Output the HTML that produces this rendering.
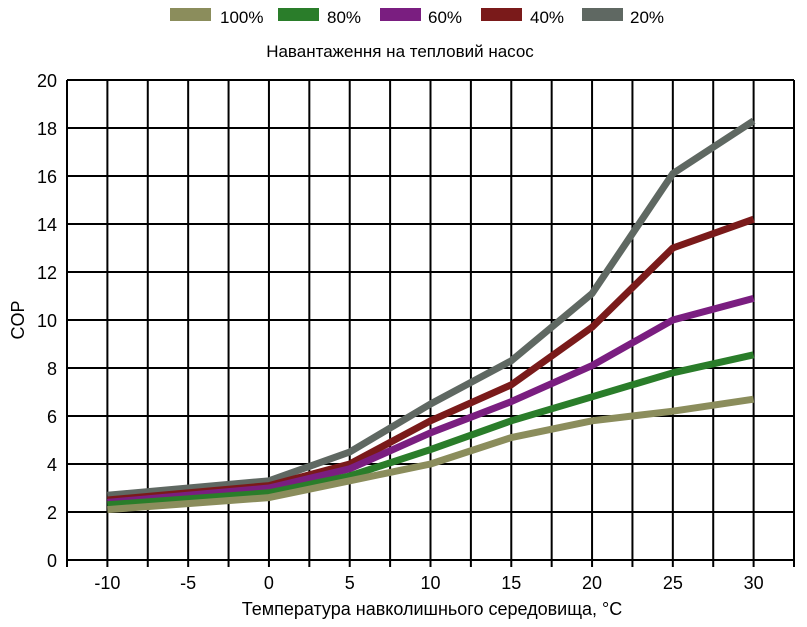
<!DOCTYPE html>
<html><head><meta charset="utf-8"><style>body{margin:0;background:#fff}svg{display:block}text{font-family:"Liberation Sans",sans-serif;fill:#000}</style></head><body>
<svg width="807" height="627" xmlns="http://www.w3.org/2000/svg">
<g font-size="17">
<rect x="170" y="8" width="41" height="13" fill="#8b8d5c"/><text x="220" y="23">100%</text>
<rect x="278" y="8" width="41" height="13" fill="#2a7d2a"/><text x="327" y="23">80%</text>
<rect x="380" y="8" width="41" height="13" fill="#7a1e80"/><text x="428" y="23">60%</text>
<rect x="481" y="8" width="41" height="13" fill="#7a1a1a"/><text x="530" y="23">40%</text>
<rect x="582" y="8" width="41" height="13" fill="#5f6862"/><text x="630" y="23">20%</text>
<text x="400" y="57" text-anchor="middle">Навантаження на тепловий насос</text>
</g>
<g stroke="#000" stroke-width="2" fill="none" id="grid"></g>
<g id="lines" fill="none" stroke-width="7" stroke-linejoin="round"></g>
<g font-size="18" id="lab"></g>
<text x="432" y="615" font-size="18" text-anchor="middle">Температура навколишнього середовища, °C</text>
<text x="24" y="320" font-size="18" text-anchor="middle" transform="rotate(-90 24 320)">COP</text>
<script>
var ns="http://www.w3.org/2000/svg";
function el(p,t,a,tx){var e=document.createElementNS(ns,t);for(var k in a)e.setAttribute(k,a[k]);if(tx!=null)e.textContent=tx;document.getElementById(p).appendChild(e);}
var L=67,R=794,T=80,B=560,dx=(R-L)/18;
for(var i=0;i<=18;i++){var x=L+i*dx;el("grid","line",{x1:x,y1:T,x2:x,y2:B+7});}
for(var j=0;j<=10;j++){var y=B-j*48;el("grid","line",{x1:L,y1:y,x2:R,y2:y});el("lab","text",{x:57,y:y+7,"text-anchor":"end"},String(j*2));}
for(var t=-10;t<=30;t+=5){el("lab","text",{x:L+dx*(t+12.5)/2.5,y:589,"text-anchor":"middle"},String(t));}
var xs=[-10,0,5,10,15,20,25,30];
var d=[["#8b8d5c",[2.1,2.6,3.3,4.0,5.1,5.8,6.2,6.7]],["#2a7d2a",[2.3,2.8,3.5,4.6,5.8,6.8,7.8,8.55]],["#7a1e80",[2.4,3.0,3.8,5.3,6.6,8.1,10.0,10.9]],["#7a1a1a",[2.5,3.1,4.0,5.8,7.3,9.7,13.0,14.2]],["#5f6862",[2.7,3.3,4.5,6.5,8.3,11.1,16.1,18.3]]];
d.reverse().forEach(function(s){var p=s[1].map(function(v,k){var t=xs[k];return (L+dx*(t+12.5)/2.5)+","+(B-v*24);}).join(" ");el("lines","polyline",{points:p,stroke:s[0]});});
</script>
</svg>
</body></html>
